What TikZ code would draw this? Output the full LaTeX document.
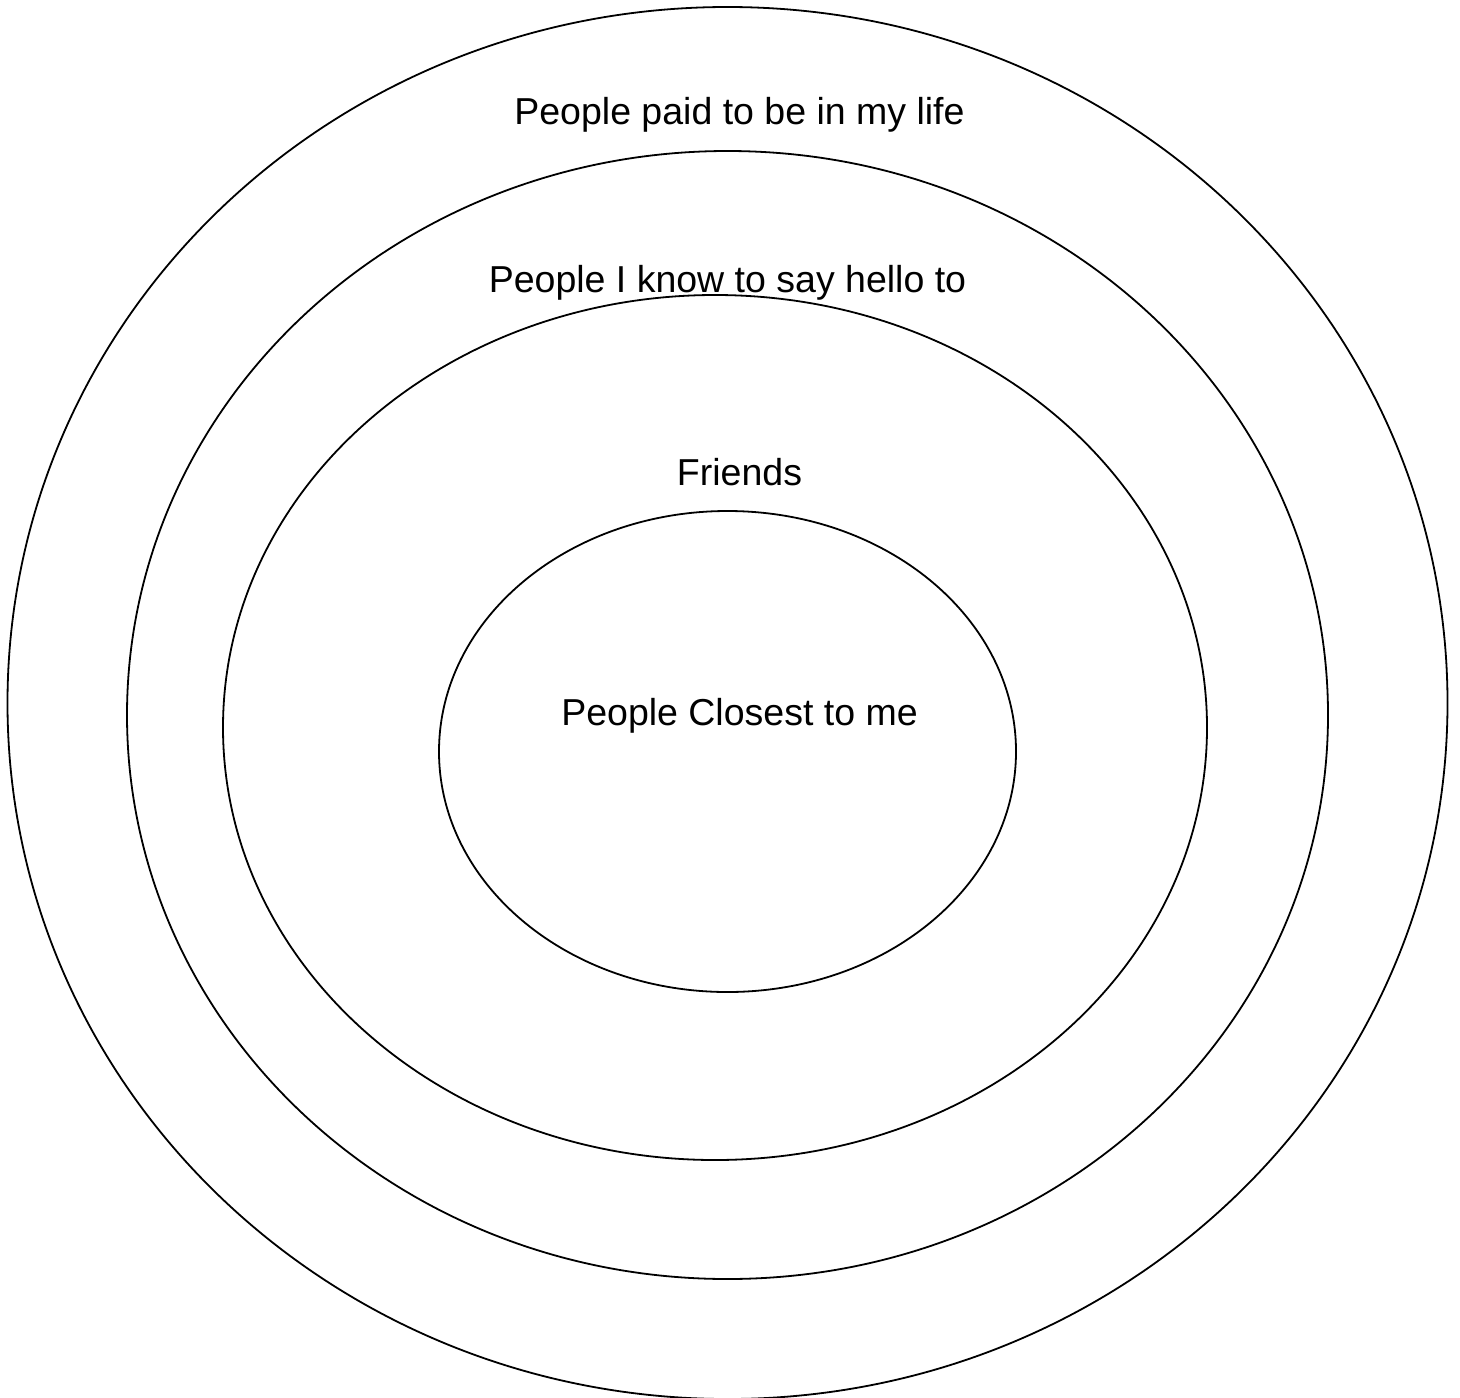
\documentclass[tikz,border=0pt]{standalone}
\usepackage{fontspec}
\setmainfont{Liberation Sans}
\begin{document}
\begin{tikzpicture}[x=0.5pt,y=-0.5pt,
  ring/.style={draw=black,line width=0.9pt},
  lbl/.style={inner sep=0pt,anchor=base,font=\fontsize{18.75pt}{22pt}\selectfont}]
\useasboundingbox[fill=white] (0,0) rectangle (1460,1397);
\begin{scope}
\clip (0,0) rectangle (1460,1397);
\draw[ring] (727.5,703) ellipse [x radius=720, y radius=696];
\end{scope}
\draw[ring] (727.5,715) ellipse [x radius=600.5, y radius=564];
\draw[ring] (715,727.5) ellipse [x radius=492, y radius=432.5];
\draw[ring] (727.5,751.5) ellipse [x radius=288.5, y radius=240.5];
\node[lbl] (paid) at (739.5,124) {People paid to be in my life};
\node[lbl] (hello) at (727.5,292) {People I know to say hello to};
\node[lbl] (friends) at (739.5,485) {Friends};
\node[lbl] (closest) at (739.5,725) {People Closest to me};
\end{tikzpicture}
\end{document}
